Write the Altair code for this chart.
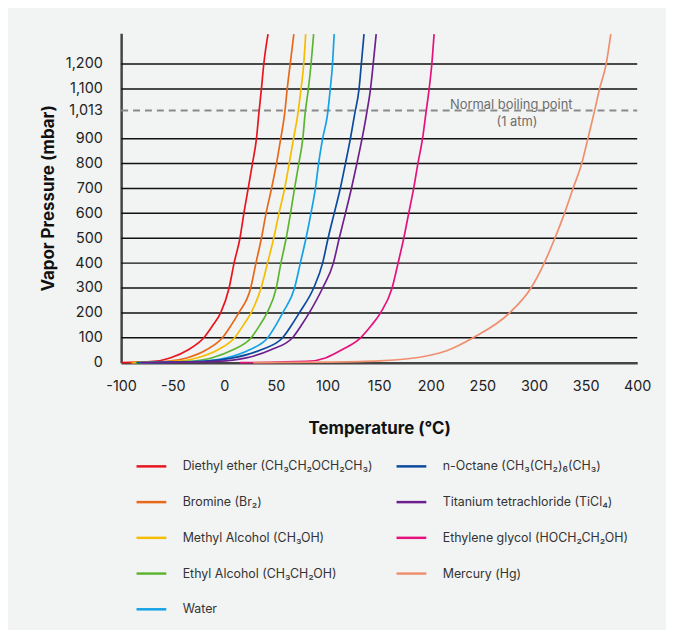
import altair as alt
import pandas as pd

# ---- data ----
substances = [
    "Diethyl ether (CH₃CH₂OCH₂CH₃)",
    "Bromine (Br₂)",
    "Methyl Alcohol (CH₃OH)",
    "Ethyl Alcohol (CH₃CH₂OH)",
    "Water",
    "n-Octane (CH₃(CH₂)₆(CH₃)",
    "Titanium tetrachloride (TiCl₄)",
    "Ethylene glycol (HOCH₂CH₂OH)",
    "Mercury (Hg)",
]
colors = ["#e8141e", "#e8681a", "#f5bd00", "#5cb531", "#14a2e6",
          "#0b4a9e", "#6e1f8e", "#e5127d", "#ef8f6e"]

# pressure levels (mbar) shared by most curves
p_levels = [0, 5, 19, 52, 100, 150, 200, 300, 400, 500, 600, 700, 800, 900, 1000, 1100, 1200, 1320]

diethyl_T = [-100, -68.6, -52.6, -34.9, -19.9, -11.2, -3.6, 4.6, 9.4, 15.1, 18.9, 23.1, 27.2, 31.1, 33.4, 35.9, 38.2, 42.3]
bromine_T = [-91, -55.8, -36.5, -17.3, -1.9, 6.5, 13.9, 25.5, 30.6, 35.9, 40.4, 45.7, 50.5, 54.6, 58.4, 60.9, 63.8, 67.3]
methanol_T = [-89, -49.3, -26.9, -6.1, 9.9, 18.3, 25.8, 35.6, 41.8, 47.8, 52.9, 58.4, 62.8, 67.0, 71.2, 74.3, 76.9, 78.8]
ethanol_T = [-86, -36.5, -12.5, 8.3, 26.0, 34.2, 41.3, 50.3, 54.8, 59.9, 64.1, 68.0, 72.1, 76.0, 78.2, 81.4, 84.0, 86.5]
water_T = [-80, -23.7, 1.9, 24.4, 42.0, 49.8, 56.5, 68.0, 73.6, 79.1, 83.9, 88.2, 91.3, 95.2, 100.0, 102.6, 104.8, 106.4]
octane_T = [-85, -20.5, 8.3, 35.6, 56.4, 65.0, 72.6, 86.5, 95.2, 100.5, 106.4, 112.3, 117.3, 122.1, 126.3, 130.5, 132.7, 135.3]
ticl4_T = [-80, -6.4, 21.2, 45.2, 66.0, 74.6, 82.2, 95.2, 105.6, 111.3, 117.3, 123.1, 128.4, 133.4, 137.8, 141.6, 144.2, 147.1]
glycol_T = [15, 80, 98, 114, 132, 142.5, 151.3, 162.5, 168.3, 173.8, 178.6, 183.4, 187.5, 192.0, 195.2, 198.4, 201.0, 203.2]

mercury_P = [0, 2, 7, 30, 48, 100, 200, 300, 400, 500, 600, 700, 800, 900, 1000, 1100, 1200, 1320]
mercury_T = [28, 100, 150, 199.4, 215.4, 241.0, 276.3, 297.1, 309.9, 320.2, 329.5, 337.8, 346.2, 352.2, 358.0, 363.5, 369.9, 374.4]

grid_values = [100, 200, 300, 400, 500, 600, 700, 800, 900, 1100, 1200]
y_ticks = [0, 100, 200, 300, 400, 500, 600, 700, 800, 900, 1013, 1100, 1200]
x_ticks = [-100, -50, 0, 50, 100, 150, 200, 250, 300, 350, 400]
boiling_pressure = 1013

# ---- build tables ----
series_T = [diethyl_T, bromine_T, methanol_T, ethanol_T, water_T,
            octane_T, ticl4_T, glycol_T, mercury_T]
rows = []
for name, temps in zip(substances, series_T):
    ps = mercury_P if name.startswith("Mercury") else p_levels
    for i, (t, p) in enumerate(zip(temps, ps)):
        rows.append({"substance": name, "T": t, "P": p, "i": i})
lines_df = pd.DataFrame(rows)
grid_df = pd.DataFrame({"P": grid_values})

FONT = "Inter"
xs = alt.Scale(domain=[-100, 400], nice=False, zero=False)
ys = alt.Scale(domain=[0, 1324], nice=False)
x_axis = alt.Axis(values=x_ticks, title="Temperature (℃)", grid=False, ticks=False,
                  labelExpr="replace(format(datum.value, 'd'), '−', '-')",
                  domainColor="#444444", domainWidth=2.5, labelFontSize=14.5,
                  labelColor="#222222", labelFont=FONT, labelPadding=17,
                  titleFont=FONT, titleFontSize=17, titleFontWeight="bold",
                  titleColor="#111111", titlePadding=28, labelFlush=False)
y_axis = alt.Axis(values=y_ticks, labelExpr="format(datum.value, ',')",
                  title="Vapor Pressure (mbar)", grid=False,
                  ticks=False, domainColor="#444444", domainWidth=2.5,
                  labelFontSize=14.5, labelColor="#222222", labelFont=FONT,
                  labelPadding=19, titleFont=FONT, titleFontSize=17,
                  titleFontWeight="bold", titleColor="#111111", titlePadding=8)

grid = alt.Chart(grid_df).mark_rule(color="#111111", strokeWidth=1.5).encode(
    y=alt.Y("P:Q", scale=ys, axis=y_axis),
    x=alt.X(datum=-100, scale=xs, axis=x_axis),
    x2=alt.X2(datum=400),
)

dashed = alt.Chart(pd.DataFrame({"P": [boiling_pressure]})).mark_rule(
    color="#8a8a8a", strokeWidth=2, strokeDash=[7, 5]
).encode(
    y=alt.Y("P:Q", scale=ys, axis=y_axis),
    x=alt.X(datum=-100, scale=xs, axis=x_axis),
    x2=alt.X2(datum=400),
)

note1 = alt.Chart(pd.DataFrame({"P": [1037], "T": [278]})).mark_text(
    text="Normal boiling point", font=FONT, fontSize=13, color="#6e6e6e"
).encode(x=alt.X("T:Q", scale=xs, axis=x_axis), y=alt.Y("P:Q", scale=ys, axis=y_axis))
note2 = alt.Chart(pd.DataFrame({"P": [965], "T": [283.5]})).mark_text(
    text="(1 atm)", font=FONT, fontSize=13, color="#6e6e6e"
).encode(x=alt.X("T:Q", scale=xs, axis=x_axis), y=alt.Y("P:Q", scale=ys, axis=y_axis))

lines = alt.Chart(lines_df).mark_line(interpolate="monotone", strokeWidth=1.7).encode(
    x=alt.X("T:Q", scale=xs, axis=x_axis),
    y=alt.Y("P:Q", scale=ys, axis=y_axis),
    order="i:Q",
    color=alt.Color(
        "substance:N",
        scale=alt.Scale(domain=substances, range=colors),
        sort=substances,
        legend=alt.Legend(
            orient="none", legendX=14, legendY=420, columns=2, title=None,
            symbolType="stroke", symbolSize=900, symbolStrokeWidth=2.5,
            labelFont=FONT, labelFontSize=12.5, labelColor="#333333",
            labelOffset=15, rowPadding=13, columnPadding=18, padding=0,
            labelLimit=400,
        ),
    ),
)

chart = alt.layer(grid, dashed, note1, note2, lines).properties(
    width=520, height=332,
    autosize=alt.AutoSizeParams(type="none"),
    padding={"left": 114, "top": 23, "right": 29, "bottom": 267},
    background="#f2f3f3",
).configure_view(stroke=None)

chart.save("out.html", embed_options={"renderer": "svg", "actions": False})
